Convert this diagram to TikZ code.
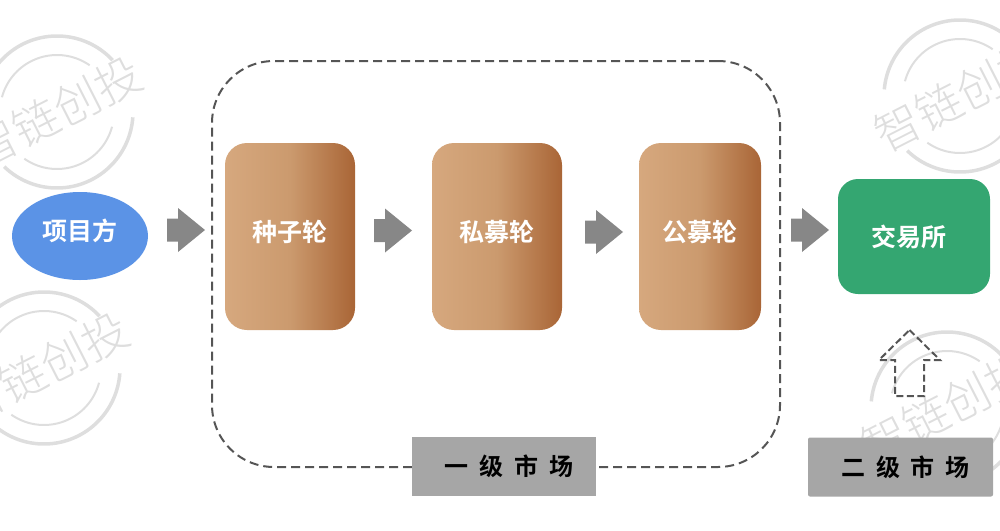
\documentclass[tikz,border=0pt]{standalone}
\usepackage{fontspec}
\usetikzlibrary{shapes.geometric}
\newfontfamily\cjk{Noto Sans CJK SC}[BoldFont={Noto Sans CJK SC Bold}]
\newfontfamily\cjklight{Noto Sans CJK SC Light}
\definecolor{wm}{HTML}{DEDEDE}
\definecolor{dashc}{HTML}{555555}
\definecolor{arrowc}{HTML}{878787}
\definecolor{labelc}{HTML}{A6A6A6}
\definecolor{stageL}{HTML}{D6A87E}
\definecolor{stageM}{HTML}{CB9A6E}
\definecolor{stageR}{HTML}{A96536}
\definecolor{projc}{HTML}{5B93E6}
\definecolor{exchc}{HTML}{34A671}
\tikzset{
  wmtext/.style={text=wm,font=\cjklight\fontsize{46}{46}\selectfont,rotate=27,inner sep=0pt},
  wmouter/.style={draw=wm,line width=3.5pt},
  wminner/.style={draw=wm,line width=2pt},
  boxfont/.style={text=white,font=\cjk\bfseries\fontsize{25}{25}\selectfont,inner sep=0pt},
  raised/.style={text height=22pt,text depth=13pt},
  stage/.style={boxfont,raised,rounded corners=22pt,minimum height=187pt,left color=stageL,right color=stageR,middle color=stageM},
  blockarrow/.style={fill=arrowc},
  dashedarrow/.style={draw=dashc,line width=2pt,dash pattern=on 7pt off 3.5pt},
  marketlabel/.style={fill=labelc,minimum width=184pt,minimum height=59pt,text=black,font=\cjk\bfseries\fontsize{24}{24}\selectfont,inner sep=0pt}
}
\newcommand{\wmark}[3]{%
  \begin{scope}[shift={(#1,#2)}]
    \draw[wmouter] (-43:76) arc[start angle=-43,end angle=-175,radius=76];
    \draw[wmouter] (-226:76) arc[start angle=-226,end angle=-356,radius=76];
    \draw[wminner] (-55:57) arc[start angle=-55,end angle=-165,radius=57];
    \draw[wminner] (-235:57) arc[start angle=-235,end angle=-345,radius=57];
    \node[wmtext] (#3) at (0,0) {智链创投};
  \end{scope}}
\newcommand{\blockarr}[3]{% name, left x, centre y
  \coordinate (#1) at (#2,#3);
  \fill[blockarrow] (#1) ++(0,-11.5) -- ++(11,0) -- ++(0,-10.5) -- ++(27,22) -- ++(-27,22) -- ++(0,-10.5) -- ++(-11,0) -- cycle;}
\begin{document}
\begin{tikzpicture}[x=1pt,y=-1pt]
\useasboundingbox (0,0) rectangle (1000,530);
\begin{scope}
  \clip (0,0) rectangle (1000,530);
  \wmark{57}{112}{wmA}
  \wmark{44}{368}{wmB}
  \wmark{960}{96}{wmC}
  \wmark{947}{408}{wmD}
\end{scope}
\node[draw=dashc,line width=2pt,dash pattern=on 9pt off 5pt,rounded corners=62pt,minimum width=568pt,minimum height=406pt,inner sep=0pt] (market) at (496,264) {};
\node[ellipse,fill=projc,minimum width=136pt,minimum height=88pt,boxfont,raised] (project) at (80,236) {项目方};
\node[stage,minimum width=130pt] (seed) at (290,236.5) {种子轮};
\node[stage,minimum width=130pt] (private) at (497,236.5) {私募轮};
\node[stage,minimum width=122pt] (public) at (700,236.5) {公募轮};
\node[rounded corners=20pt,fill=exchc,minimum width=152pt,minimum height=115pt,boxfont] (exchange) at (914,236.5) {交易所\hspace*{10pt}};
\blockarr{a1}{167}{230}
\blockarr{a2}{374}{230.5}
\blockarr{a3}{585}{232}
\blockarr{a4}{791}{230}
\coordinate (up) at (909.5,330);
\draw[dashedarrow] (up) -- ++(30.5,30) -- ++(-16,0) -- ++(0,36) -- ++(-29,0) -- ++(0,-36) -- ++(-16,0) -- cycle;
\node[marketlabel] (primary) at (504,466.5) {\hspace*{10pt}一\hspace{11pt}级\hspace{11pt}市\hspace{11pt}场};
\node[marketlabel,minimum width=185pt,rounded corners=2pt] (secondary) at (900.5,467) {\hspace*{10pt}二\hspace{11pt}级\hspace{11pt}市\hspace{11pt}场};
\end{tikzpicture}
\end{document}
